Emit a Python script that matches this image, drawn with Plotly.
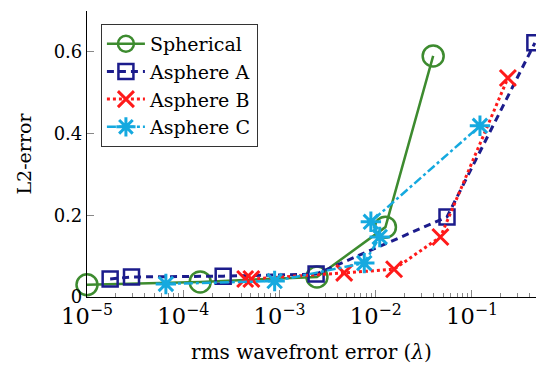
import plotly.graph_objects as go

sph_x = [1.0e-5, 1.5e-4, 2.45e-3, 1.26e-2, 3.95e-2]
sph_y = [0.030, 0.037, 0.049, 0.171, 0.590]

a_x = [1.74e-5, 2.9e-5, 2.6e-4, 2.4e-3, 5.5e-2, 0.45]
a_y = [0.044, 0.049, 0.051, 0.056, 0.196, 0.622]

b_x = [4.4e-4, 5.1e-4, 4.7e-3, 1.55e-2, 4.7e-2, 0.236]
b_y = [0.044, 0.044, 0.059, 0.068, 0.147, 0.536]

c_x = [6.6e-5, 8.9e-4, 7.6e-3, 1.1e-2, 8.9e-3, 0.121]
c_y = [0.032, 0.039, 0.083, 0.147, 0.184, 0.419]

GREEN = "#3d8b2f"
NAVY = "#1c1c8c"
RED = "#ff1a1a"
CYAN = "#15a9df"

FONT = "DejaVu Serif"

fig = go.Figure()
fig.add_trace(go.Scatter(x=sph_x, y=sph_y, name="Spherical", mode="lines+markers",
                         line=dict(color=GREEN, width=2.5),
                         marker=dict(symbol="circle-open", size=21, color=GREEN, line=dict(width=2.5)),
                         cliponaxis=False))
fig.add_trace(go.Scatter(x=a_x, y=a_y, name="Asphere A", mode="lines+markers",
                         line=dict(color=NAVY, width=3, dash="7px,5px"),
                         marker=dict(symbol="square-open", size=15, color=NAVY, line=dict(width=2.5)),
                         cliponaxis=False))
fig.add_trace(go.Scatter(x=b_x, y=b_y, name="Asphere B", mode="lines+markers",
                         line=dict(color=RED, width=3, dash="dot"),
                         marker=dict(symbol="x-thin-open", size=16, color=RED, line=dict(width=3, color=RED)),
                         cliponaxis=False))
fig.add_trace(go.Scatter(x=c_x, y=c_y, name="Asphere C", mode="lines+markers",
                         line=dict(color=CYAN, width=2.5, dash="dashdot"),
                         marker=dict(symbol="asterisk-open", size=17, color=CYAN, line=dict(width=3, color=CYAN)),
                         cliponaxis=False))

fig.update_layout(
    width=536, height=367,
    margin=dict(l=87, r=0, t=11, b=70),
    paper_bgcolor="white", plot_bgcolor="white",
    font=dict(family=FONT, size=18, color="black"),
    showlegend=True,
    legend=dict(x=0.031, y=0.955, xanchor="left", yanchor="top", itemwidth=38,
                bgcolor="white", bordercolor="#333333", borderwidth=1,
                font=dict(family=FONT, size=19, color="black"), tracegroupgap=0),
    xaxis=dict(type="log", range=[-5, -0.335], dtick=1, exponentformat="power",
               showgrid=False, zeroline=False, showline=True, linecolor="black", linewidth=1.2,
               ticks="inside", ticklen=7, tickcolor="#888888", tickwidth=1,
               minor=dict(ticks="inside", ticklen=4, tickcolor="#888888", showgrid=False),
               title=dict(text="rms wavefront error (<i>λ</i>)", font=dict(family=FONT, size=20, color="black"), standoff=16),
               tickfont=dict(family=FONT, size=18, color="black")),
    yaxis=dict(range=[0, 0.7], tickvals=[0, 0.2, 0.4, 0.6], ticktext=["0", "0.2", "0.4", "0.6"],
               showgrid=False, zeroline=False, showline=True, linecolor="black", linewidth=1.2,
               ticks="inside", ticklen=7, tickcolor="#888888", tickwidth=1,
               title=dict(text="L2-error", font=dict(family=FONT, size=19, color="black"), standoff=17),
               tickfont=dict(family=FONT, size=18, color="black")),
)

fig.write_html("out.html")
